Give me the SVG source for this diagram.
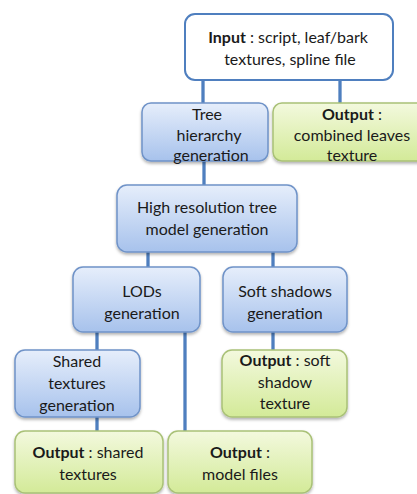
<svg xmlns="http://www.w3.org/2000/svg" width="417" height="494" viewBox="0 0 417 494">
<defs>
<linearGradient id="gb" x1="0" y1="0" x2="0" y2="1"><stop offset="0" stop-color="#e6eefb"/><stop offset="1" stop-color="#a7c2ec"/></linearGradient>
<linearGradient id="gg" x1="0" y1="0" x2="0" y2="1"><stop offset="0" stop-color="#f3f9de"/><stop offset="1" stop-color="#d3ea98"/></linearGradient>
<filter id="sh" x="-10%" y="-10%" width="120%" height="130%"><feDropShadow dx="0" dy="2" stdDeviation="1.5" flood-color="#000" flood-opacity="0.3"/></filter>
</defs>
<style>
.b{fill:url(#gb);stroke:#6f93c8;stroke-width:1.5;filter:url(#sh)}
.g{fill:url(#gg);stroke:#a9c177;stroke-width:1.5;filter:url(#sh)}
.w{fill:#fff;stroke:#4f7fbf;stroke-width:2}
text{font-family:Lato,"Open Sans",sans-serif;font-size:16px;fill:#1a1a1a;text-anchor:middle}
.k{font-weight:bold}
.c{stroke:#4f7fbf;stroke-width:3.3;fill:none}
</style>
<rect width="417" height="494" fill="#fff"/>
<g id="connectors">
<line class="c" x1="203" y1="80" x2="203" y2="103"/>
<line class="c" x1="340" y1="80" x2="340" y2="103"/>
<line class="c" x1="204" y1="161" x2="204" y2="185"/>
<line class="c" x1="148" y1="252" x2="148" y2="267"/>
<line class="c" x1="273" y1="252" x2="273" y2="267"/>
<line class="c" x1="97" y1="332" x2="97" y2="350"/>
<line class="c" x1="185" y1="332" x2="185" y2="431"/>
<line class="c" x1="97" y1="417" x2="97" y2="431"/>
<line class="c" x1="273" y1="332" x2="273" y2="350"/>
</g>
<g id="input" font-size="17"><rect class="w" x="185" y="14" width="208" height="66" rx="10"/>
<text x="288" y="43" font-size="17"><tspan class="k">Input</tspan> : script, leaf/bark</text><text x="290" y="65" font-size="17">textures, spline file</text></g>
<g id="tree"><rect class="b" x="142" y="103" width="126" height="58" rx="9"/>
<text x="207" y="120" font-size="19.5">Tree</text><text x="209" y="141" font-size="19.5">hierarchy</text><text x="211" y="161" font-size="19.5">generation</text></g>
<g id="combined"><rect class="g" x="273" y="103" width="160" height="58" rx="9"/>
<text x="352" y="120" font-size="16.5"><tspan class="k">Output</tspan> :</text><text x="352" y="141" font-size="16.5">combined leaves</text><text x="352" y="161" font-size="16.5">texture</text></g>
<g id="highres"><rect class="b" x="117" y="185" width="180" height="67" rx="10"/>
<text x="207" y="213" font-size="16.7">High resolution tree</text><text x="207" y="235" font-size="16.7">model generation</text></g>
<g id="lods"><rect class="b" x="73" y="267" width="127" height="65" rx="10"/>
<text x="142" y="297" font-size="15.5">LODs</text><text x="142" y="319" font-size="15.5">generation</text></g>
<g id="soft"><rect class="b" x="223" y="267" width="124" height="65" rx="10"/>
<text x="285" y="297" font-size="16">Soft shadows</text><text x="285" y="319" font-size="16">generation</text></g>
<g id="shared"><rect class="b" x="15" y="350" width="125" height="67" rx="10"/>
<text x="77" y="367" font-size="17">Shared</text><text x="77" y="389" font-size="17">textures</text><text x="77" y="411" font-size="17">generation</text></g>
<g id="softout"><rect class="g" x="222" y="350" width="125" height="67" rx="10"/>
<text x="285" y="366" font-size="17"><tspan class="k">Output</tspan> : soft</text><text x="285" y="388" font-size="17">shadow</text><text x="285" y="409" font-size="17">texture</text></g>
<g id="sharedout"><rect class="g" x="15" y="431" width="148" height="62" rx="10"/>
<text x="88" y="458" font-size="17"><tspan class="k">Output</tspan> : shared</text><text x="88" y="480" font-size="17">textures</text></g>
<g id="modelout"><rect class="g" x="168" y="431" width="144" height="62" rx="10"/>
<text x="240" y="458" font-size="17"><tspan class="k">Output</tspan> :</text><text x="240" y="480" font-size="17">model files</text></g>
</svg>
